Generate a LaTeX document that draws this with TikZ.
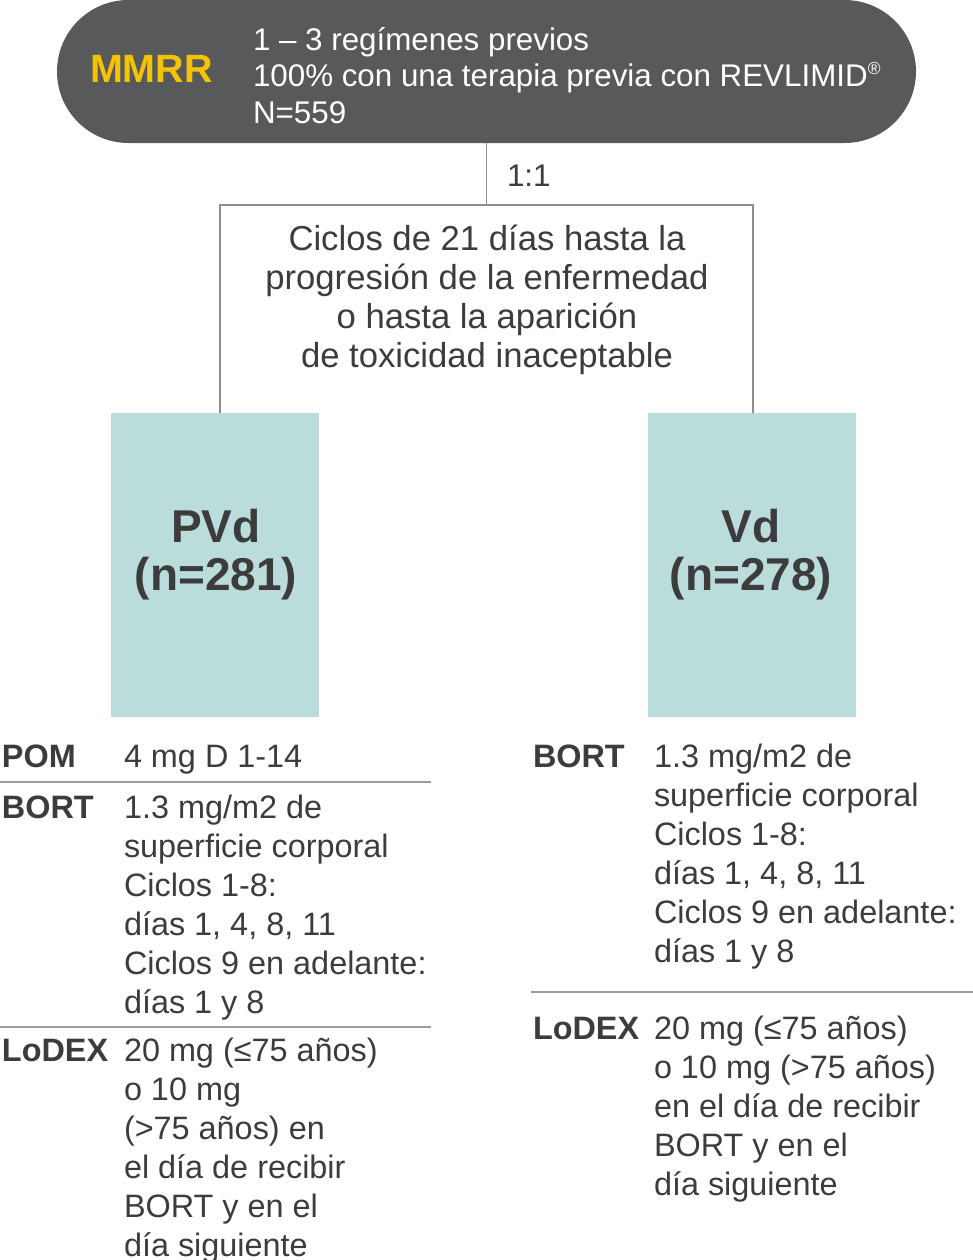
\documentclass[tikz,border=0pt]{standalone}
\usepackage{fontspec}
\setmainfont{Liberation Sans}
\definecolor{pillc}{HTML}{58595B}
\definecolor{mmrr}{HTML}{F5C400}
\definecolor{teal}{HTML}{BADCDA}
\definecolor{txt}{HTML}{3C3C3D}
\definecolor{linec}{HTML}{8E8E8E}
\definecolor{rulec}{HTML}{9A9A9A}
\newcommand{\tablefont}{\fontsize{24.3}{29.25}\selectfont}
\newcommand{\boxfont}{\fontsize{26}{29.25}\selectfont}
\newcommand{\topfont}{\fontsize{23.5}{27.4}\selectfont}
\newcommand{\bigfont}{\fontsize{34.5}{36}\selectfont\bfseries}
\newcommand{\ml}[1]{\begin{tabular}[t]{@{}l@{}}#1\end{tabular}}
\newcommand{\mc}[1]{\begin{tabular}[t]{@{}c@{}}#1\end{tabular}}
\begin{document}
\begin{tikzpicture}[x=0.75pt,y=-0.75pt,
  every node/.style={inner sep=0pt, outer sep=0pt},
  lbl/.style={anchor=base west, text=txt, font=\tablefont\bfseries},
  val/.style={anchor=base west, text=txt, font=\tablefont},
  rulel/.style={draw=rulec, line width=1.3pt},
  conn/.style={draw=linec, line width=1pt},
  tealbox/.style={fill=teal, minimum width=156pt, minimum height=228pt}]
\useasboundingbox (0,0) rectangle (973,1260);
% pill
\node[fill=pillc, minimum width=644.25pt, minimum height=107.25pt, rounded corners=53.6pt] (pill) at (486.5,71.5) {};
\node[anchor=base west, text=mmrr, font=\fontsize{29.6}{33}\selectfont\bfseries] (mmrr) at (90,82) {MMRR};
\node[anchor=base west, text=white, font=\topfont] (pinfo) at (253,50) {\ml{1 -- 3 regímenes previos\\100\% con una terapia previa con REVLIMID\raisebox{0.4em}{\fontsize{13}{13}\selectfont ®}\\N=559}};
% connector and box
\coordinate (tl) at (220,205);
\coordinate (tr) at (753,205);
\coordinate (bl) at (220,413);
\coordinate (br) at (753,413);
\draw[conn] (pill.south) -- (pill.south |- tl);
\node[anchor=base west, text=txt, font=\topfont] (ratio) at (507,186) {1:1};
\draw[conn] (bl) -- (tl) -- (tr) -- (br);
\node[anchor=base, text=txt, font=\boxfont] (cyc) at (487,250) {\mc{Ciclos de 21 días hasta la\\progresión de la enfermedad\\o hasta la aparición\\de toxicidad inaceptable}};
% teal boxes
\node[tealbox] (pvd) at (215,565) {};
\node[tealbox] (vd) at (752,565) {};
\node[anchor=base, text=txt, font=\bigfont] (pvdt) at (216,542) {\mc{PVd\\(n=281)}};
\node[anchor=base, text=txt, font=\bigfont] (vdt) at (751,542) {\mc{Vd\\(n=278)}};
% left table
\node[lbl] (pom) at (2,767) {POM};
\node[val] (pomv) at (124,767) {4 mg D 1-14};
\coordinate (r1a) at (0,782); \coordinate (r1b) at (431,782);
\draw[rulel] (r1a) -- (r1b);
\node[lbl] (bortl) at (2,818) {BORT};
\node[val] (bortlv) at (124,818) {\ml{1.3 mg/m2 de\\superficie corporal\\Ciclos 1-8:\\días 1, 4, 8, 11\\Ciclos 9 en adelante:\\días 1 y 8}};
\coordinate (r2a) at (0,1027); \coordinate (r2b) at (431,1027);
\draw[rulel] (r2a) -- (r2b);
\node[lbl] (lodexl) at (2,1061) {LoDEX};
\node[val] (lodexlv) at (124,1061) {\ml{20 mg (≤75 años)\\o 10 mg\\(>75 años) en\\el día de recibir\\BORT y en el\\día siguiente}};
% right table
\node[lbl] (bortr) at (533,767) {BORT};
\node[val] (bortrv) at (654,767) {\ml{1.3 mg/m2 de\\superficie corporal\\Ciclos 1-8:\\días 1, 4, 8, 11\\Ciclos 9 en adelante:\\días 1 y 8}};
\coordinate (r3a) at (531,992); \coordinate (r3b) at (973,992);
\draw[rulel] (r3a) -- (r3b);
\node[lbl] (lodexr) at (533,1039) {LoDEX};
\node[val] (lodexrv) at (654,1039) {\ml{20 mg (≤75 años)\\o 10 mg (>75 años)\\en el día de recibir\\BORT y en el\\día siguiente}};
\end{tikzpicture}
\end{document}
